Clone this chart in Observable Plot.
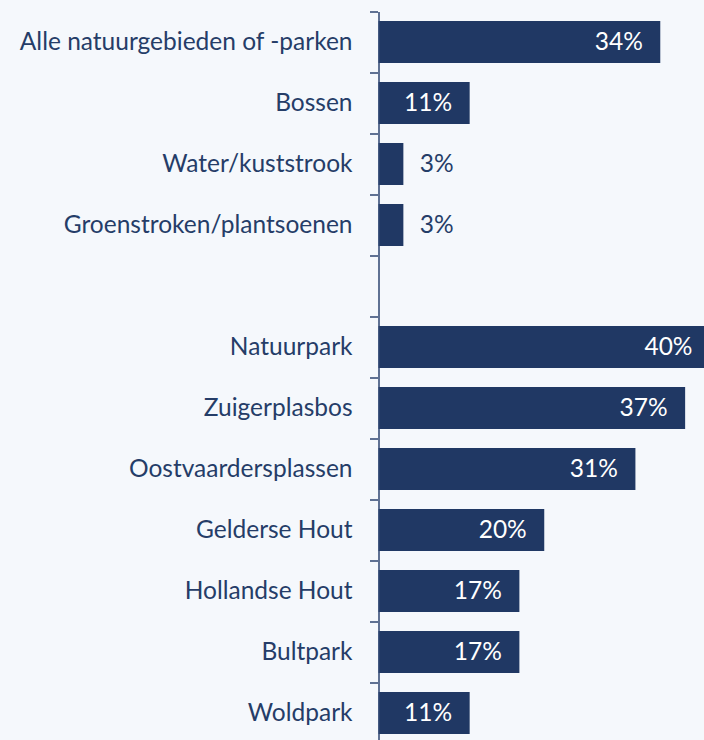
<!DOCTYPE html>
<html>
<head>
<meta charset="utf-8">
<script src="https://cdn.jsdelivr.net/npm/d3@7"></script>
<script src="https://cdn.jsdelivr.net/npm/@observablehq/plot@0.6"></script>
<style>
  html, body { margin: 0; padding: 0; background: #f5f8fc; overflow: hidden; }
  #chart svg { display: block; background: #f5f8fc; overflow: hidden; }
</style>
</head>
<body>
<div id="chart"></div>
<script>
const categories = [
  "Alle natuurgebieden of -parken",
  "Bossen",
  "Water/kuststrook",
  "Groenstroken/plantsoenen",
  " ",
  "Natuurpark",
  "Zuigerplasbos",
  "Oostvaardersplassen",
  "Gelderse Hout",
  "Hollandse Hout",
  "Bultpark",
  "Woldpark"
];
const values = [34, 11, 3, 3, null, 40, 37, 31, 20, 17, 17, 11];

const data = categories.map((c, i) => ({cat: c, value: values[i]})).filter(d => d.value != null);

const navy = "#203864";
const textColor = "#253d68";
const font = "Lato, 'Open Sans', sans-serif";
const fs = 24.5;

const chart = Plot.plot({
  width: 704,
  height: 740,
  marginTop: 12,
  marginBottom: 0,
  marginLeft: 378,
  marginRight: 0,
  style: {background: "#f5f8fc", fontFamily: font, fontSize: fs + "px", color: textColor},
  x: {domain: [0, 40], range: [378.5, 710], axis: null},
  y: {domain: categories, range: [12, 744], paddingInner: 0.31, paddingOuter: 0.155, label: null},
  marks: [
    Plot.barX(data, {x: "value", y: "cat", fill: navy}),
    Plot.axisY({tickSize: 0, tickPadding: 26, fontSize: fs, fill: textColor}),
    Plot.axisY({tickSize: 8, text: null, stroke: "#2d4470", strokeWidth: 1.5, dy: -30.5}),
    Plot.ruleX([0], {stroke: "#2d4470", strokeWidth: 1.5}),
    Plot.text(data.filter(d => d.value >= 10), {
      x: "value", y: "cat", text: d => d.value + "%",
      textAnchor: "end", dx: -18, fill: "white", fontSize: fs
    }),
    Plot.text(data.filter(d => d.value < 10), {
      x: "value", y: "cat", text: d => d.value + "%",
      textAnchor: "start", dx: 16, fill: textColor, fontSize: fs
    })
  ]
});
document.getElementById("chart").appendChild(chart);
</script>
</body>
</html>
